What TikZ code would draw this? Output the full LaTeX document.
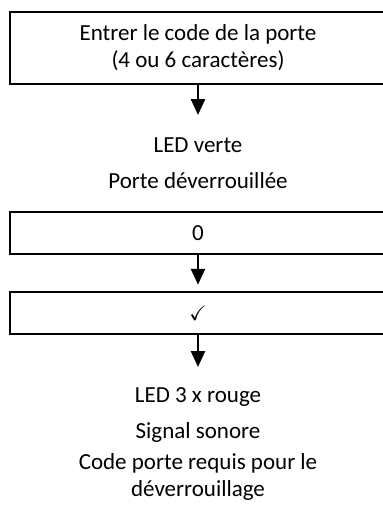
\documentclass[tikz,border=0pt]{standalone}
\usepackage{amssymb}
\usepackage{fontspec}
\setmainfont{Carlito}
\usetikzlibrary{arrows.meta,positioning}

\begin{document}
\begin{tikzpicture}[x=1pt,y=-1pt]
\tikzset{
  stepbox/.style={draw,line width=2.5pt,minimum width=376pt,inner sep=0pt,
    font=\fontsize{23}{27}\selectfont,align=center},
  msg/.style={anchor=base,inner sep=0pt,font=\fontsize{23}{27}\selectfont},
  flow/.style={line width=2.5pt,-{Triangle[length=16pt,width=14pt]}}
}
\useasboundingbox (0,0) rectangle (383,509);
\clip (0,0) rectangle (383,509);
% boxes (open to the right edge)
\node[stepbox,minimum height=72pt] (entry) at (198,48)
  {Entrer le code de la porte\\(4 ou 6 caractères)};
\node[stepbox,minimum height=42pt] (zero) at (198,233) {0};
\node[stepbox,minimum height=42pt,font=\fontsize{21}{24}\selectfont] (check) at (198,313) {$\checkmark$};
% messages
\node[msg] (green) at (198,152) {LED verte};
\node[msg] (open) at (198,188) {Porte déverrouillée};
\node[msg] (red) at (198,402) {LED 3 x rouge};
\node[msg] (beep) at (198,438) {Signal sonore};
\node[msg] (need) at (198,469) {Code porte requis pour le};
\node[msg] (needb) at (198,496) {déverrouillage};
\coordinate (tipA) at (198,115);
\coordinate (tipC) at (198,367);
% arrows
\draw[flow] (entry.south) -- (tipA);
\draw[flow,shorten >=6pt] (zero.south) -- (check.north);
\draw[flow] (check.south) -- (tipC);
\end{tikzpicture}
\end{document}
